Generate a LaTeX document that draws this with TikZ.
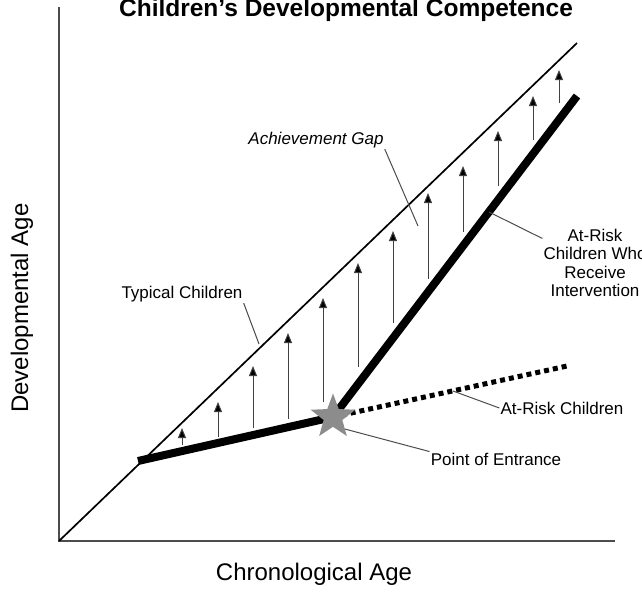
\documentclass[tikz,border=0pt]{standalone}
\usepackage{fontspec}
\setmainfont{Liberation Sans}
\usetikzlibrary{arrows.meta,positioning,shapes.geometric}
\tikzset{
      axisline/.style={draw=black!70, line width=1.2pt},
      typicalline/.style={draw=black, line width=1.7pt},
      riskline/.style={draw=black, line width=8pt},
      riskdots/.style={draw=black, line width=5pt, dash pattern=on 5pt off 4pt},
      gaparrow/.style={draw=black!75, line width=1pt, -{Triangle[length=10pt,width=8pt,fill=black]}},
      leader/.style={draw=black!70, line width=1pt},
      notetext/.style={font=\fontsize{17}{18.5}\selectfont, inner sep=1pt},
      axislabel/.style={font=\fontsize{24}{27}\selectfont, inner sep=1pt},
      titletext/.style={font=\fontsize{24.5}{28}\selectfont\bfseries, inner sep=0pt}
    }

\begin{document}
\begin{tikzpicture}[x=1pt,y=-1pt]
    \useasboundingbox (0,0) rectangle (642,595);
    % axes and the typical children line
    \coordinate (origin) at (59,541);
    \coordinate (ytop) at (59,7);
    \coordinate (xend) at (615,541);
    \coordinate (typend) at (577,43);
    \draw[axisline] (ytop) -- (origin) -- (xend);
    \draw[typicalline] (origin) -- (typend);
    % gap arrows
    \foreach \x/\ya/\yb in {182/445/428, 218/437/402, 253/428/366, 288/419/333, 323/402/298, 358/367/263, 393/323/231, 428/279/193, 463/232/166, 498/186/131, 533/140/96, 559/103/70}
      \draw[gaparrow] (\x,\ya) -- (\x,\yb);
    % at-risk lines
    \coordinate (riskstart) at (138,461);
    \coordinate (intend) at (577,96);
    \coordinate (riskend) at (567,366);
    \coordinate (entrypt) at (333,417);
    \draw[riskline] (riskstart) -- (entrypt) -- (intend);
    \draw[riskdots] (entrypt) -- (riskend);
    \node[star, star points=5, star point ratio=2.4, fill=black!45, minimum size=47pt, inner sep=0pt] (entry) at (entrypt) {};
    % labels
    \node[titletext, anchor=base] (title) at (346,16) {Children's Developmental Competence};
    \node[axislabel, rotate=90] (devage) at (22,308) {Developmental Age};
    \node[axislabel] (chronage) at (314,574) {Chronological Age};
    \node[notetext] (typical) at (182,294) {Typical Children};
    \node[notetext, font=\fontsize{17}{18.5}\selectfont\itshape] (gap) at (316,140) {Achievement Gap};
    \node[notetext, align=center] (intervention) at (595,263) {At-Risk\\Children Who\\Receive\\Intervention};
    \node[notetext] (risk) at (562,408) {At-Risk Children};
    \node[notetext] (poe) at (496,459) {Point of Entrance};
    % leaders
    \coordinate (typicaltip) at (259,344);
    \coordinate (gaptip) at (418,226);
    \coordinate (inttip) at (489,212);
    \coordinate (risktip) at (453,391);
    \draw[leader] (typical.south east) -- (typicaltip);
    \draw[leader] (gap.south east) -- (gaptip);
    \draw[leader] (inttip) -- (intervention.155);
    \draw[leader] (risktip) -- (risk.west);
    \draw[leader] (entry.south east) -- (poe.north west);
\end{tikzpicture}
\end{document}
